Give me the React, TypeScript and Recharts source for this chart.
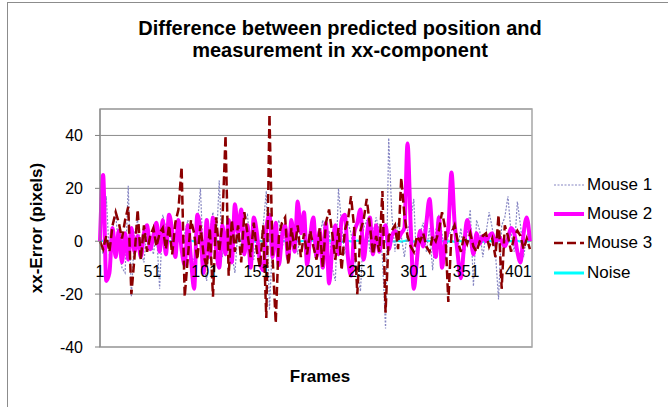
import React from 'react';
import { LineChart, Line, XAxis, YAxis, CartesianGrid, ReferenceArea } from 'recharts';

// frame numbers (sampled every 3rd frame)
const frames = [
  1, 4, 7, 10, 13, 16, 19, 22, 25, 28, 31, 34, 37, 40, 43, 46, 49, 52, 55, 58,
  61, 64, 67, 70, 73, 76, 79, 82, 85, 88, 91, 94, 97, 100, 103, 106, 109, 112, 115, 118,
  121, 124, 127, 130, 133, 136, 139, 142, 145, 148, 151, 154, 157, 160, 163, 166, 169, 172, 175, 178,
  181, 184, 187, 190, 193, 196, 199, 202, 205, 208, 211, 214, 217, 220, 223, 226, 229, 232, 235, 238,
  241, 244, 247, 250, 253, 256, 259, 262, 265, 268, 271, 274, 277, 280, 283, 286, 289, 292, 295, 298,
  301, 304, 307, 310, 313, 316, 319, 322, 325, 328, 331, 334, 337, 340, 343, 346, 349, 352, 355, 358,
  361, 364, 367, 370, 373, 376, 379, 382, 385, 388, 391, 394, 397, 400, 403, 406, 409, 412,
];

const mouse1 = [
  0, -5, 17, -6, 5, 10, -3, -10, -12, 21,
  -21, 3, 8, -4, -8, 5, 2, -5, 4, -18,
  10, 5, 9, -3, 2, 7, -4, 3, 8, -5,
  -8, 6, 20, -9, -15, 4, 11, -3, 23, -6,
  3, 7, -5, -12, 5, -4, 8, 10, -4, -7,
  3, -2, 6, 19, -26, 1, 4, 8, -3, 4,
  -6, 7, 2, -5, 6, 3, -7, 2, 5, -4,
  2, 8, -5, 4, -10, -15, 20, 6, -5, 7,
  3, -6, -12, -19, 5, 8, -4, 3, 9, 4,
  -6, -33, 39, 10, -4, 7, 2, -6, 4, 8,
  16, -12, 3, 7, -4, 5, -11, 4, 10, 3,
  -7, 2, 4, 8, -3, 5, -6, 3, 12, -17,
  8, 4, -6, 3, 11, 5, -4, -22, 6, 9,
  17, 3, -4, 15, 6, -6, 2, 4,
];

const mouse2 = [
  0, 25, -15, -12, 5, -6, 4, -8, 3, -7,
  5, -4, 2, -6, 3, 6, -3, 2, 7, -4,
  8, -5, 10, 4, -6, 8, -3, -9, 6, -7,
  -18, 10, 4, -12, 8, -6, 9, -3, -10, 6,
  -5, 8, -8, 14, 3, 12, -5, 6, -10, 9,
  3, -8, -11, 5, 10, -6, 7, -9, 2, 6,
  -7, 8, -4, 15, 3, 11, -9, 2, 9, -6,
  4, -10, 7, -16, -3, 6, -5, 8, 10, -6,
  -13, 3, 7, 12, -7, 2, 9, -5, 6, -4,
  3, 6, -3, 2, 4, 1, 3, 5, 37, 6,
  -18, -7, 4, -2, 7, 16, 2, -6, 9, -10,
  0, 5, 26, 7, -5, -14, -2, 8, 3, -5,
  3, -1, 2, 0, 2, 3, -1, 2, 0, -2,
  1, 5, 3, -4, -8, 3, 9, 0,
];

const mouse3 = [
  0, -3, 2, -4, 6, 11, 7, 1, 8, 13,
  -20, -6, 12, -7, 6, -4, 2, 5, -2, 3,
  5, -3, 6, -5, 7, 12, 28, -21, -6, 8,
  3, -7, 6, -5, -10, 5, -21, 9, -4, 7,
  40, -13, 8, -4, 6, -8, 11, 3, -6, 7,
  -4, -10, 6, -29, 48, -6, -31, 2, 7, 9,
  -9, 5, -3, 6, -6, 3, -5, 4, -2, -7,
  5, -10, 7, 12, 3, -7, 5, -11, 4, 8,
  17, 5, -20, 4, 8, 16, 6, -5, 2, -4,
  19, -27, 2, 4, 6, -3, 24, 10, 2, -2,
  -4, 2, 0, 3, -2, -4, 2, 0, 4, 11,
  5, -23, 3, 6, 0, -4, 2, -1, 3, -2,
  -4, 0, 2, 3, -2, 1, -6, 10, -18, 6,
  2, -4, 2, 4, 2, -3, 1, -3,
];

const noise = [
  0, 0.3, -0.2, 0.1, 0.4, -0.3, 0.2, 0, -0.4, 0.3, 0.1, -0.2, 0.2, -0.1, 0.3, 0, -0.3, 0.2, 0.1, -0.2,
  0.3, -0.1, 0, 0.2, -0.3, 0.1, 0.4, -0.2, 0, 0.3, -0.1, 0.2, -0.3, 0.1, 0, -0.2, 0.3, 0.1, -0.1, 0.2,
  -0.3, 0, 0.2, -0.2, 0.1, 0.3, -0.1, 0, 0.2, -0.3, 0.1, 0.2, -0.2, 0, 0.4, -0.3, 0.1, -0.1, 0.2, 0,
  -0.2, 0.3, 0.1, -0.1, 0, 0.2, -0.3, 0.1, 0.3, -0.2, 0, 0.1, -0.1, 0.3, -0.2, 0.2, 0, -0.3, 0.1, 0.2,
  -0.1, 0, 0.3, -0.2, 0.1, -0.1, 0.2, 0, -0.3, 0.2, 0.1, -0.2, 0.3, 0, -0.1, 0.2, -0.2, 0.1, 0.4, 0.3,
  -0.2, 0.1, 0, -0.3, 0.2, 0.1, -0.1, 0.3, -0.2, 0, 0.2, -0.1, 0.1, -0.3, 0.2, 0, -0.2, 0.3, 0.1, -0.1,
  0, 0.2, -0.3, 0.1, 0.3, -0.2, 0, 0.1, -0.1, 0.2, -0.3, 0.1, 0, 0.2, -0.2, 0.3, -0.1, 0,
];

const xTicks = [1, 51, 101, 151, 201, 251, 301, 351, 401];
const yTicks = [-40, -20, 0, 20, 40];
const Y_MIN = -40;
const Y_MAX = 50;

const series = [
  { key: 'm1', name: 'Mouse 1', color: '#8585c2', width: 1.2, dash: '2 1.5' },
  { key: 'm2', name: 'Mouse 2', color: '#ff00ff', width: 4, dash: undefined },
  { key: 'm3', name: 'Mouse 3', color: '#8b0000', width: 2.5, dash: '9 4' },
  { key: 'noise', name: 'Noise', color: '#00ffff', width: 3, dash: undefined },
];

const data = frames.map((f, i) => ({
  frame: f,
  m1: mouse1[i],
  m2: mouse2[i],
  m3: mouse3[i],
  noise: noise[i],
}));

const FONT = '"Liberation Sans", Arial, sans-serif';
const TOP = 109;
const PLOT_H = 238;

// x labels sit under the zero line, like Excel's crossing axis
const renderFrameTick = (props: any) => {
  const { x, payload } = props;
  const zeroY = TOP + (PLOT_H * (Y_MAX - 0)) / (Y_MAX - Y_MIN);
  return (
    <text key={payload.value} x={x} y={zeroY + 36} textAnchor="middle" fontSize={16} fontFamily={FONT} fill="#000">
      {payload.value}
    </text>
  );
};

export default function App() {
  return (
    <div style={{ position: 'absolute', left: 0, top: 0, width: 668, height: 407, background: '#fff', overflow: 'hidden' }}>
      <div style={{ position: 'absolute', left: 7, top: 2, width: 700, height: 450, borderLeft: '1px solid #8c8c8c', borderTop: '1px solid #8c8c8c' }} />
      <div style={{ position: 'absolute', left: 0, top: 0 }}>
        <LineChart width={668} height={407} data={data} margin={{ top: TOP, right: 136, bottom: 30, left: 60 }}>
          <CartesianGrid vertical={false} stroke="#8c8c8c" />
          <ReferenceArea x1={1} x2={414} y1={Y_MIN} y2={Y_MAX} fill="none" stroke="#a6a6a6" strokeWidth={1.5} />
          <XAxis
            type="number"
            dataKey="frame"
            domain={[1, 414]}
            ticks={xTicks}
            axisLine={false}
            tickLine={false}
            height={30}
            tick={renderFrameTick}
            interval={0}
          />
          <YAxis
            domain={[Y_MIN, Y_MAX]}
            ticks={yTicks}
            width={40}
            tickSize={5}
            tickMargin={12}
            axisLine={{ stroke: '#808080' }}
            tickLine={{ stroke: '#808080' }}
            tick={{ fontSize: 16, fill: '#000', fontFamily: FONT }}
            interval={0}
          />
          <Line dataKey="noise" name="Noise" stroke="#00ffff" strokeWidth={2} dot={false} isAnimationActive={false} />
          <Line dataKey="m1" name="Mouse 1" stroke="#8585c2" strokeWidth={1.2} strokeDasharray="2 1.5" dot={false} isAnimationActive={false} />
          <Line type="monotone" dataKey="m2" name="Mouse 2" stroke="#ff00ff" strokeWidth={4} dot={false} isAnimationActive={false} />
          <Line dataKey="m3" name="Mouse 3" stroke="#8b0000" strokeWidth={2.5} strokeDasharray="9 4" dot={false} isAnimationActive={false} />
        </LineChart>
      </div>
      <div style={{ position: 'absolute', left: 553, top: 170, fontFamily: FONT, fontSize: 17, color: '#000' }}>
        {series.map((s) => (
          <div key={s.key} style={{ height: 29.3, display: 'flex', alignItems: 'center' }}>
            <svg width={32} height={10} style={{ marginRight: 2 }}>
              <line x1={1} y1={5} x2={31} y2={5} stroke={s.color} strokeWidth={s.width} strokeDasharray={s.dash} />
            </svg>
            <span>{s.name}</span>
          </div>
        ))}
      </div>
      <div style={{ position: 'absolute', left: 0, width: 680, top: 17, textAlign: 'center', fontFamily: FONT, fontWeight: 'bold', fontSize: 20, lineHeight: '22px' }}>
        Difference between predicted position and
        <br />
        measurement in xx-component
      </div>
      <div style={{ position: 'absolute', left: 37, top: 228, transform: 'translate(-50%, -50%) rotate(-90deg)', whiteSpace: 'nowrap', fontFamily: FONT, fontWeight: 'bold', fontSize: 17 }}>
        xx-Error (pixels)
      </div>
      <div style={{ position: 'absolute', left: 320, top: 377, transform: 'translate(-50%, -50%)', fontFamily: FONT, fontWeight: 'bold', fontSize: 17 }}>
        Frames
      </div>
    </div>
  );
}
